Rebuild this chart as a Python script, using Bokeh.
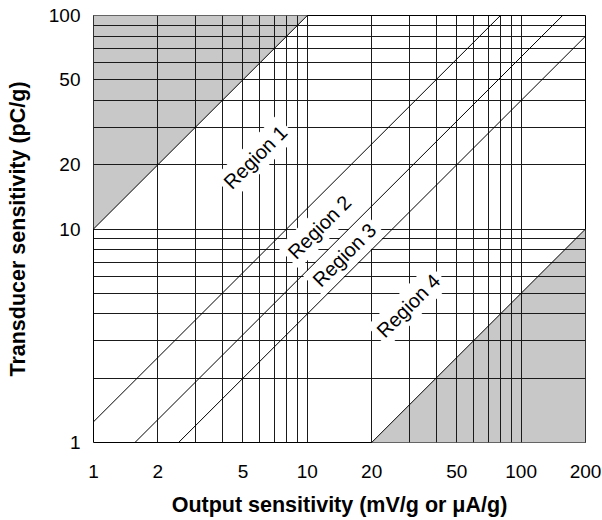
import math
import numpy as np
from bokeh.plotting import figure
from bokeh.models import Range1d, FixedTicker, ColumnDataSource
from bokeh.core.properties import value
from bokeh.embed import file_html
from bokeh.resources import INLINE

# ---- data ----
x_ticks = [1, 2, 5, 10, 20, 50, 100, 200]
y_ticks = [1, 10, 20, 50, 100]
x_grid = [1, 2, 3, 4, 5, 6, 7, 8, 9, 10, 20, 30, 40, 50, 60, 70, 80, 90, 100]
y_grid = [1, 2, 3, 4, 5, 6, 7, 8, 9, 10, 20, 30, 40, 50, 60, 70, 80, 90, 100]

# boundary lines: transducer = coef * output
boundary_coef = [10, 1.25, 0.64, 0.4, 0.05]
shade_upper_coef = 10     # region above this line shaded
shade_lower_coef = 0.05   # region below this line shaded

region_names = ["Region 1", "Region 2", "Region 3", "Region 4"]
region_x = [5.72, 11.4, 14.9, 29.7]
region_y = [21.7, 10.2, 7.56, 4.37]

X_MIN, X_MAX = 1, 200
Y_MIN, Y_MAX = 1, 100

FONT = "Liberation Sans"

p = figure(width=601, height=519, x_axis_type="log", y_axis_type="log",
           x_range=Range1d(X_MIN, X_MAX), y_range=Range1d(Y_MIN, Y_MAX),
           output_backend="svg", toolbar_location=None,
           min_border_left=93, min_border_right=16, min_border_top=15,
           min_border_bottom=76)

p.background_fill_color = "white"
p.border_fill_color = "white"
p.outline_line_color = "black"
p.outline_line_width = 1

# shaded regions
xs = np.array([X_MIN, X_MAX], dtype=float)
p.varea(x=xs, y1=shade_upper_coef * xs, y2=[Y_MAX * 10] * 2,
        fill_color="#c8c8c8", level="image")
p.varea(x=xs, y1=[Y_MIN / 10] * 2, y2=shade_lower_coef * xs,
        fill_color="#c8c8c8", level="image")

# grid
for g in p.xgrid:
    g.ticker = FixedTicker(ticks=x_grid)
    g.grid_line_color = "#1a1a1a"
    g.grid_line_width = 1
for g in p.ygrid:
    g.ticker = FixedTicker(ticks=y_grid)
    g.grid_line_color = "#1a1a1a"
    g.grid_line_width = 1

# region labels
src = ColumnDataSource(dict(x=region_x, y=region_y, t=region_names))
p.text(x="x", y="y", text="t", source=src, angle=math.pi / 4,
       text_align="center", text_baseline="middle",
       text_font=value(FONT), text_font_size="20px", text_color="black",
       background_fill_color="white", padding=4)

# boundary lines
for k in boundary_coef:
    p.line(x=xs, y=k * xs, line_color="black", line_width=1)

# axes
p.xaxis.ticker = FixedTicker(ticks=x_ticks)
p.yaxis.ticker = FixedTicker(ticks=y_ticks)
p.xaxis.major_label_overrides = {t: str(t) for t in x_ticks}
p.yaxis.major_label_overrides = {t: str(t) for t in y_ticks}
for ax in (p.xaxis, p.yaxis):
    ax.axis_line_color = None
    ax.major_tick_line_color = None
    ax.minor_tick_line_color = None
    ax.major_label_text_font = FONT
    ax.major_label_text_font_size = "19px"
    ax.major_label_text_color = "black"
    ax.axis_label_text_font = FONT
    ax.axis_label_text_font_size = "21.5px"
    ax.axis_label_text_font_style = "bold"
    ax.axis_label_text_color = "black"

p.xaxis.axis_label = "Output sensitivity (mV/g or μA/g)"
p.yaxis.axis_label = "Transducer sensitivity (pC/g)"
p.xaxis.major_label_standoff = 16
p.xaxis.axis_label_standoff = 12
p.yaxis.major_label_standoff = 7
p.yaxis.axis_label_standoff = 16

open("out.html", "w").write(file_html(p, INLINE))
